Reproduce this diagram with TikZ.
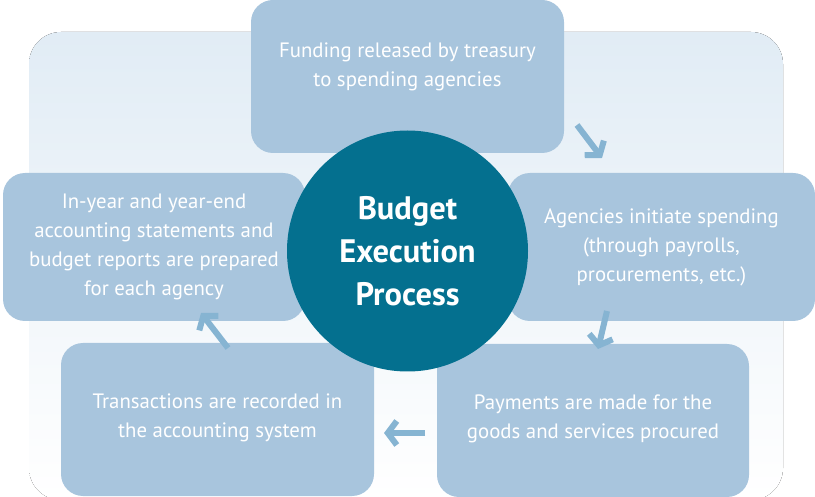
\documentclass[tikz,border=0pt]{standalone}
\usepackage{fontspec}
\setmainfont{PT Sans}
\usepackage{tikz}
\usetikzlibrary{positioning, calc, arrows.meta}

\definecolor{boxblue}{HTML}{A8C5DD}
\definecolor{hubteal}{HTML}{04708F}
\definecolor{bgtop}{HTML}{E1ECF5}
\definecolor{flowblue}{HTML}{86B4D2}

\tikzset{
  stepbox/.style={fill=boxblue, rounded corners=22pt, text=white, align=center,
    font=\fontsize{20.8}{29}\selectfont, inner sep=0pt},
  hub/.style={circle, fill=hubteal, text=white, align=center, minimum size=241pt,
    font=\bfseries\fontsize{32.5}{43}\selectfont, inner sep=0pt},
  flow/.style={draw=flowblue, line width=6pt, -{Straight Barb[length=9pt,width=24pt]}}
}

\begin{document}
\begin{tikzpicture}[x=1pt, y=-1pt]
                \useasboundingbox (0,0) rectangle (815,497);

                % 背景の描画
                \fill[top color=bgtop, bottom color=white, rounded corners=32pt] (29,500) rectangle (783,32);

                % 各段階のボックス
                \node[stepbox, minimum width=313pt, minimum height=153pt, text depth=24pt] (fund) at (407.5,76.5)
                    {Funding released by treasury\\to spending agencies};
                \node[stepbox, minimum width=307pt, minimum height=148pt] (spend) at (661.5,247)
                    {Agencies initiate spending\\(through payrolls,\\procurements, etc.)};
                \node[stepbox, minimum width=312pt, minimum height=153pt, text depth=8pt] (pay) at (593,420.5)
                    {Payments are made for the\\goods and services procured};
                \node[stepbox, minimum width=313pt, minimum height=153pt, text depth=8pt] (record) at (217.5,419.5)
                    {Transactions are recorded in\\the accounting system};
                \node[stepbox, minimum width=302pt, minimum height=148pt] (report) at (154,247)
                    {In-year and year-end\\accounting statements and\\budget reports are prepared\\for each agency};

                % 中央の円
                \node[hub] (budget) at (407.5,251) {Budget\\Execution\\Process};

                % 矢印の描画
                \coordinate (f1) at (577,125);
                \coordinate (t1) at (602,158);
                \coordinate (f2) at (607,311);
                \coordinate (t2) at (598,349);
                \coordinate (f3) at (425,433);
                \coordinate (t3) at (384,433);
                \coordinate (f4) at (228,348);
                \coordinate (t4) at (201,313);
                \draw[flow] (f1) -- (t1);
                \draw[flow] (f2) -- (t2);
                \draw[flow] (f3) -- (t3);
                \draw[flow] (f4) -- (t4);
\end{tikzpicture}
\end{document}
